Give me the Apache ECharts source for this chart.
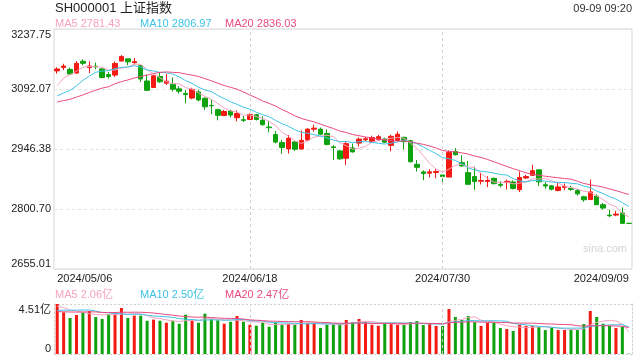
<!DOCTYPE html>
<html><head><meta charset="utf-8">
<script src="https://cdn.jsdelivr.net/npm/echarts@6/dist/echarts.min.js"></script>
<style>html,body{margin:0;padding:0;background:#fff}#c{width:640px;height:360px}</style>
</head><body><div id="c"></div>
<script>
const dates = [
'2024/05/06','2024/05/07','2024/05/08','2024/05/09','2024/05/10','2024/05/13','2024/05/14','2024/05/15','2024/05/16','2024/05/17',
'2024/05/20','2024/05/21','2024/05/22','2024/05/23','2024/05/24','2024/05/27','2024/05/28','2024/05/29','2024/05/30','2024/05/31',
'2024/06/03','2024/06/04','2024/06/05','2024/06/06','2024/06/07','2024/06/11','2024/06/12','2024/06/13','2024/06/14','2024/06/17',
'2024/06/18','2024/06/19','2024/06/20','2024/06/21','2024/06/24','2024/06/25','2024/06/26','2024/06/27','2024/06/28','2024/07/01',
'2024/07/02','2024/07/03','2024/07/04','2024/07/05','2024/07/08','2024/07/09','2024/07/10','2024/07/11','2024/07/12','2024/07/15',
'2024/07/16','2024/07/17','2024/07/18','2024/07/19','2024/07/22','2024/07/23','2024/07/24','2024/07/25','2024/07/26','2024/07/29',
'2024/07/30','2024/07/31','2024/08/01','2024/08/02','2024/08/05','2024/08/06','2024/08/07','2024/08/08','2024/08/09','2024/08/12',
'2024/08/13','2024/08/14','2024/08/15','2024/08/16','2024/08/19','2024/08/20','2024/08/21','2024/08/22','2024/08/23','2024/08/26',
'2024/08/27','2024/08/28','2024/08/29','2024/08/30','2024/09/02','2024/09/03','2024/09/04','2024/09/05','2024/09/06','2024/09/09'];

const opens = [3136.0,3144.5,3139.8,3130.8,3159.4,3143.9,3147.4,3140.8,3127.2,3125.8,
3159.9,3165.3,3156.1,3148.7,3111.5,3095.7,3122.5,3106.1,3103.8,3092.4,
3080.9,3070.0,3085.0,3069.8,3052.1,3041.8,3027.8,3038.6,3022.2,3017.6,
3018.2,3029.4,3015.9,2999.7,2981.7,2962.1,2946.6,2963.6,2946.4,2968.1,
2994.6,2994.5,2984.2,2951.6,2941.8,2923.9,2949.1,2960.7,2968.9,2964.3,
2969.8,2970.9,2955.3,2967.0,2974.7,2966.3,2909.2,2890.8,2887.7,2889.4,
2883.3,2878.2,2940.5,2913.3,2889.0,2879.5,2868.2,2867.6,2875.1,2860.5,
2864.9,2866.3,2847.6,2875.9,2882.4,2895.7,2859.6,2856.9,2845.5,2853.5,
2850.5,2845.5,2830.4,2823.6,2832.1,2811.1,2786.0,2786.0,2790.9,2765.9];

const closes = [3140.72,3147.74,3128.48,3154.32,3154.55,3148.02,3145.77,3119.90,3122.40,3154.03,
3171.15,3157.97,3158.54,3116.39,3088.87,3124.04,3109.57,3111.02,3091.68,3086.81,
3078.49,3091.20,3065.40,3048.79,3051.28,3028.05,3037.47,3028.92,3032.63,3015.89,
3030.25,3018.05,3005.44,2998.14,2963.10,2950.00,2972.53,2945.85,2967.40,2994.73,
2997.01,2982.38,2957.57,2949.93,2922.45,2959.37,2939.36,2970.39,2971.30,2974.01,
2976.30,2962.85,2977.13,2982.31,2964.22,2915.37,2901.95,2886.74,2890.90,2891.85,
2879.30,2938.75,2932.39,2905.34,2860.70,2867.28,2869.90,2869.83,2862.19,2858.20,
2867.95,2850.65,2877.36,2879.43,2893.67,2866.66,2856.58,2848.77,2854.37,2855.52,
2848.32,2837.43,2823.11,2842.21,2811.04,2802.98,2784.28,2788.31,2765.81,2765.77];

const lows = [3129.5,3138.0,3126.9,3129.2,3149.7,3131.0,3140.1,3118.2,3117.5,3120.9,
3159.9,3149.9,3151.2,3109.2,3087.3,3094.1,3107.1,3102.1,3086.0,3081.1,
3057.5,3067.0,3062.6,3041.5,3031.1,3016.0,3026.2,3023.3,3013.3,3011.9,
3016.6,3015.7,3003.0,2986.8,2959.9,2934.7,2935.4,2941.8,2944.8,2965.6,
2988.9,2980.0,2955.2,2920.0,2920.1,2907.7,2937.8,2952.6,2965.7,2961.8,
2965.8,2960.4,2940.7,2964.6,2945.6,2913.8,2891.6,2870.6,2877.2,2875.7,
2863.1,2878.2,2930.8,2903.6,2860.7,2847.2,2860.2,2853.6,2860.5,2853.0,
2848.0,2848.0,2841.9,2874.0,2882.4,2857.0,2850.0,2846.0,2843.9,2846.8,
2844.9,2833.4,2818.3,2823.6,2811.0,2799.0,2781.1,2783.1,2765.8,2765.7];

const highs = [3144.9,3153.3,3143.9,3159.9,3164.2,3159.3,3156.3,3142.5,3133.7,3158.9,
3174.3,3165.3,3167.4,3151.2,3127.6,3126.4,3133.0,3128.7,3120.0,3098.9,
3089.8,3095.2,3090.0,3071.4,3065.9,3044.3,3041.5,3041.8,3039.9,3026.4,
3032.7,3031.8,3025.6,3014.3,2989.8,2968.6,2980.6,2966.1,2991.6,2996.3,
3005.1,2998.5,2993.9,2955.6,2944.3,2965.9,2959.6,2974.4,2975.4,2978.8,
2980.3,2974.2,2981.1,2988.8,2976.3,2968.7,2919.8,2894.8,2897.4,2897.5,
2883.3,2942.9,2948.5,2931.1,2917.3,2903.7,2888.4,2880.3,2876.7,2868.0,
2872.0,2870.0,2891.9,2883.5,2908.2,2895.7,2866.0,2859.0,2864.1,2862.9,
2857.0,2849.5,2832.9,2872.1,2836.1,2815.2,2798.8,2796.0,2804.6,2766.0];

// volume in 亿
const volumes = [4.51,3.76,3.25,3.52,3.76,3.88,3.34,3.16,3.58,3.79,
4.15,3.25,3.46,3.46,3.00,3.10,3.00,2.82,3.00,2.73,
3.55,3.00,2.82,3.64,3.13,3.04,2.73,2.91,3.43,2.91,
2.64,2.55,2.82,2.46,2.85,2.64,2.73,2.64,3.07,2.82,
2.82,2.35,2.64,2.70,2.73,3.07,2.88,3.16,2.91,2.64,
2.55,2.76,2.73,2.64,2.64,2.88,2.97,2.61,2.73,2.53,
2.53,4.06,3.34,3.07,3.43,2.88,2.53,2.82,2.82,2.35,
2.25,2.07,2.64,2.53,2.53,2.44,2.16,2.38,2.16,2.16,
2.22,2.16,2.70,3.88,3.34,2.73,2.55,2.35,2.46,0.03];

// closes / volumes of the 19 sessions before the window (for moving averages)
const priorCloses = [3074.96,3069.30,3047.05,3048.54,3027.40,3034.25,3019.47,3057.38,3007.07,3071.38,
3074.23,3065.26,3044.60,3021.98,3044.82,3052.90,3088.64,3113.04,3104.82];
const priorVolumes = [3.9,3.6,3.8,3.5,3.7,3.4,4.2,3.5,3.9,3.6,3.4,3.3,3.5,3.6,3.9,4.3,4.4,4.0,4.3];

const yTickLabels = ['2655.01','2800.70','2946.38','3092.07','3237.75'];
const yMin = 2655.01, yMax = 3237.75;
const volTickLabels = ['0','4.51亿'];
const volMax = 4.51;
const xLabelDates = ['2024/05/06','2024/06/18','2024/07/30','2024/09/09'];
const markDates = ['2024/06/18','2024/07/30'];

const titleText = 'SH000001 上证指数';
const timeText = '09-09 09:20';
const maLegend = ['MA5 2781.43','MA10 2806.97','MA20 2836.03'];
const volLegend = ['MA5 2.06亿','MA10 2.50亿','MA20 2.47亿'];

const UP = '#f21a12', DOWN = '#0ea20e';
const C5 = '#f7a3bf', C10 = '#3ec3e6', C20 = '#ea4a82';
const FONT = '"Liberation Sans", Arial, "Noto Sans CJK SC", sans-serif';

function movingAvg(n, arr, prior) {
  const all = prior.concat(arr), off = prior.length, out = [];
  for (let i = 0; i < arr.length; i++) {
    let s = 0; const end = off + i;
    for (let k = end - n + 1; k <= end; k++) s += all[k];
    out.push(+(s / n).toFixed(3));
  }
  return out;
}

const kData = dates.map((d, i) => [opens[i], closes[i], lows[i], highs[i]]);
const volData = volumes.map((v, i) => ({value: v, itemStyle: {color: closes[i] >= opens[i] ? UP : DOWN}}));

const chart = echarts.init(document.getElementById('c'), null, {renderer: 'canvas'});
const gridL = 54, gridR = 8;

const dashV = {type: [3, 3], color: '#cfcfcf', width: 1};
function vMarks() {
  return {symbol: 'none', silent: true, label: {show: false}, lineStyle: dashV,
    data: markDates.map(d => ({xAxis: d}))};
}

chart.setOption({
  animation: false,
  textStyle: {fontFamily: FONT},
  grid: [
    {left: gridL, right: gridR, top: 29, height: 240, show: true, borderColor: '#d6d6d6', borderWidth: 1},
    {left: gridL, right: gridR, top: 304, height: 50}
  ],
  xAxis: [
    {type: 'category', gridIndex: 0, data: dates, boundaryGap: true,
      axisLine: {show: false}, axisTick: {show: false}, splitLine: {show: false},
      axisLabel: {interval: (i, v) => xLabelDates.indexOf(v) >= 0, color: '#222', fontSize: 11, margin: 4,
        alignMinLabel: 'left', alignMaxLabel: 'right', showMinLabel: true, showMaxLabel: true}},
    {type: 'category', gridIndex: 1, data: dates, boundaryGap: true,
      axisLine: {show: false}, axisTick: {show: false}, axisLabel: {show: false}, splitLine: {show: false}}
  ],
  yAxis: [
    {type: 'value', gridIndex: 0, min: yMin, max: yMax, interval: (yMax - yMin) / 4, scale: true,
      axisLine: {show: false}, axisTick: {show: false},
      splitLine: {show: true, lineStyle: {type: [3, 3], color: '#e2e2e2', width: 1}},
      axisLabel: {color: '#222', fontSize: 11, margin: 3, formatter: (v, i) => yTickLabels[i],
        verticalAlignMinLabel: 'bottom', verticalAlignMaxLabel: 'top'}},
    {type: 'value', gridIndex: 1, min: 0, max: volMax, interval: volMax,
      axisLine: {show: true, lineStyle: {type: [2, 2], color: '#cfcfcf'}}, axisTick: {show: false},
      splitLine: {show: true, lineStyle: {type: [2, 2], color: '#cfcfcf', width: 1}},
      axisLabel: {color: '#222', fontSize: 11, margin: 3, formatter: (v, i) => volTickLabels[i],
        verticalAlignMinLabel: 'bottom', verticalAlignMaxLabel: 'top'}},
    {type: 'value', gridIndex: 1, position: 'right', min: 0, max: volMax, interval: volMax,
      axisLine: {show: true, lineStyle: {type: [2, 2], color: '#cfcfcf'}}, axisTick: {show: false},
      axisLabel: {show: false}, splitLine: {show: false}}
  ],
  series: [
    {type: 'candlestick', xAxisIndex: 0, yAxisIndex: 0, data: kData, barWidth: 5,
      itemStyle: {color: UP, color0: DOWN, borderColor: UP, borderColor0: DOWN, borderColorDoji: DOWN, borderWidth: 1},
      markLine: vMarks()},
    {type: 'line', xAxisIndex: 0, yAxisIndex: 0, data: movingAvg(5, closes, priorCloses), symbol: 'none', smooth: false,
      lineStyle: {color: C5, width: 1}, silent: true},
    {type: 'line', xAxisIndex: 0, yAxisIndex: 0, data: movingAvg(10, closes, priorCloses), symbol: 'none',
      lineStyle: {color: C10, width: 1}, silent: true},
    {type: 'line', xAxisIndex: 0, yAxisIndex: 0, data: movingAvg(20, closes, priorCloses), symbol: 'none',
      lineStyle: {color: C20, width: 1}, silent: true},
    {type: 'bar', xAxisIndex: 1, yAxisIndex: 1, data: volData, barWidth: 3, markLine: vMarks()},
    {type: 'line', xAxisIndex: 1, yAxisIndex: 1, data: movingAvg(5, volumes, priorVolumes), symbol: 'none',
      lineStyle: {color: C5, width: 1}, silent: true},
    {type: 'line', xAxisIndex: 1, yAxisIndex: 1, data: movingAvg(10, volumes, priorVolumes), symbol: 'none',
      lineStyle: {color: C10, width: 1}, silent: true},
    {type: 'line', xAxisIndex: 1, yAxisIndex: 1, data: movingAvg(20, volumes, priorVolumes), symbol: 'none',
      lineStyle: {color: C20, width: 1}, silent: true}
  ],
  graphic: [
    {type: 'text', left: 55, top: 2, style: {text: titleText, fill: '#222', font: '13px ' + FONT}},
    {type: 'text', right: 8, top: 3, style: {text: timeText, fill: '#333', font: '11px ' + FONT}},
    {type: 'text', left: 55, top: 18, style: {text: maLegend[0], fill: C5, font: '11px ' + FONT}},
    {type: 'text', left: 140, top: 18, style: {text: maLegend[1], fill: C10, font: '11px ' + FONT}},
    {type: 'text', left: 225, top: 18, style: {text: maLegend[2], fill: C20, font: '11px ' + FONT}},
    {type: 'text', left: 55, top: 289, style: {text: volLegend[0], fill: C5, font: '11px ' + FONT}},
    {type: 'text', left: 140, top: 289, style: {text: volLegend[1], fill: C10, font: '11px ' + FONT}},
    {type: 'text', left: 225, top: 289, style: {text: volLegend[2], fill: C20, font: '11px ' + FONT}},
    {type: 'text', left: 583, top: 243, style: {text: 'sina.com', fill: '#d4d4d4', font: '11px ' + FONT}}
  ]
});
</script></body></html>
